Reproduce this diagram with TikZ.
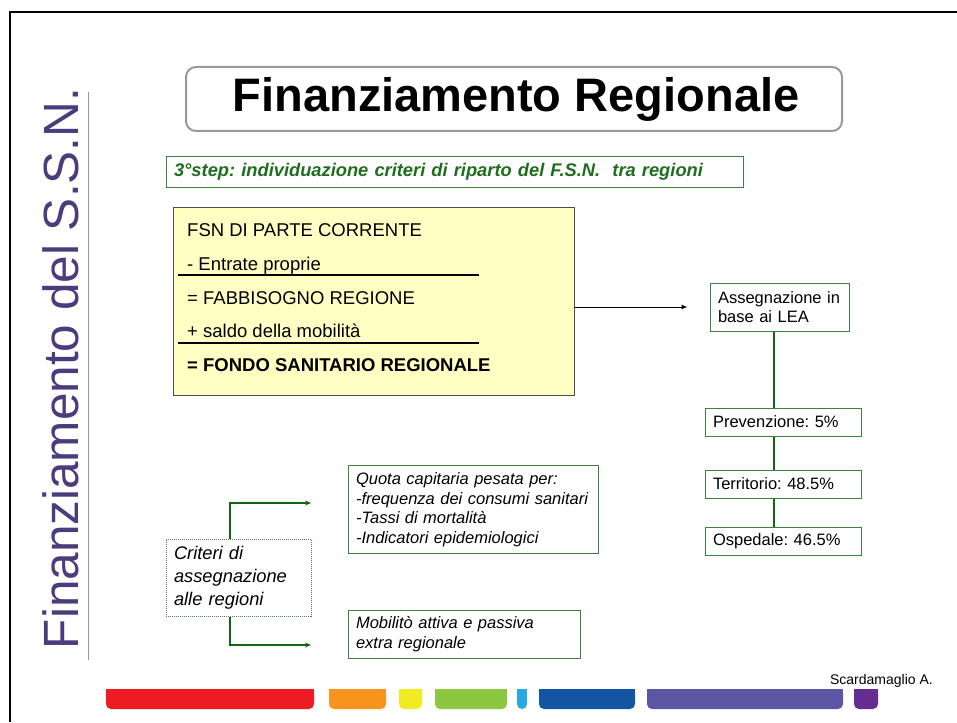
\documentclass[tikz,border=0pt]{standalone}
\usepackage{fontspec}
\setmainfont{Liberation Sans}
\usetikzlibrary{arrows.meta}
\frenchspacing
\definecolor{gbord}{HTML}{3F7F3F}
\definecolor{gtext}{HTML}{1E6E1E}
\definecolor{gline}{HTML}{126312}
\definecolor{yfill}{HTML}{FFFFC4}
\definecolor{purp}{HTML}{4B3C7E}
\definecolor{cRed}{HTML}{ED1C24}
\definecolor{cOra}{HTML}{F7941D}
\definecolor{cYel}{HTML}{F2EB24}
\definecolor{cGre}{HTML}{8DC63F}
\definecolor{cCya}{HTML}{27AAE1}
\definecolor{cBlu}{HTML}{1155A3}
\definecolor{cPbl}{HTML}{5B57A5}
\definecolor{cPur}{HTML}{662D91}
\tikzset{
  gbox/.style={draw=gbord, line width=1pt, inner xsep=8pt, inner ysep=0pt, align=left, font=\fontsize{16.5}{19.5}\selectfont},
  itbox/.style={gbox, font=\fontsize{16.5}{19.5}\selectfont\itshape},
  yline/.style={line width=2pt, black},
  gconn/.style={draw=gline, line width=2pt},
  garrow/.style={gconn, -{Stealth[length=6pt,width=5pt]}},
  ytext/.style={anchor=base west, inner sep=0pt, font=\fontsize{18.5}{20}\selectfont},
}
\begin{document}
\begin{tikzpicture}[x=1pt,y=-1pt]
\useasboundingbox (0,0) rectangle (957,722);
\fill[white] (0,0) rectangle (957,722);
% frame
\draw[line width=2pt] (10,722) -- (10,12) -- (957,12);
% vertical title
\node[rotate=90, text=purp, font=\fontsize{49.5}{52}\selectfont, inner sep=0pt] (vt) at (61,368.5) {Finanziamento del S.S.N.};
\draw[gray!80, line width=1pt] (88,92) -- (88,660);
% title
\node[draw=black!40, line width=2pt, rounded corners=10pt, minimum width=656pt, minimum height=64pt, font=\fontsize{47}{49}\selectfont\bfseries] (title) at (514,99) {\hspace*{4pt}Finanziamento Regionale};
% step
\node[gbox, minimum width=577pt, minimum height=30pt, text width=561pt, text=gtext, font=\fontsize{18.3}{20}\selectfont\bfseries\itshape] (step) at (454.5,172) {3°step: individuazione criteri di riparto del F.S.N.\ \ tra regioni};
% yellow box
\node[draw=black!70, fill=yfill, line width=1pt, minimum width=401pt, minimum height=188pt] (fsn) at (373.5,301) {};
\node[ytext] (l1) at (187,236) {FSN DI PARTE CORRENTE};
\node[ytext] (l2) at (187,270) {- Entrate proprie};
\node[ytext] (l3) at (187,304) {= FABBISOGNO REGIONE};
\node[ytext] (l4) at (187,337) {+ saldo della mobilità};
\node[ytext, font=\fontsize{18.5}{20}\selectfont\bfseries] (l5) at (187,371) {= FONDO SANITARIO REGIONALE};
\draw[yline] (178,275) -- (479,275);
\draw[yline] (178,343) -- (479,343);
% LEA
\node[gbox, minimum width=139pt, minimum height=48pt, text width=123pt] (lea) at (779.5,307) {Assegnazione in\\base ai LEA};
\draw[black, line width=1pt, -{Latex[length=6pt,width=5pt]}, shorten >=22pt] (fsn.east |- lea.west) -- (lea.west);
\node[gbox, minimum width=156pt, minimum height=28pt, text width=140pt] (prev) at (783,422) {Prevenzione: 5\%};
\node[gbox, minimum width=156pt, minimum height=28pt, text width=140pt] (terr) at (783,484) {Territorio: 48.5\%};
\node[gbox, minimum width=156pt, minimum height=28pt, text width=140pt] (osp) at (783,541) {Ospedale: 46.5\%};
\coordinate (vx) at (774,0);
\draw[gconn] (lea.south -| vx) -- (prev.north -| vx);
\draw[gconn] (prev.south -| vx) -- (terr.north -| vx);
\draw[gconn] (terr.south -| vx) -- (osp.north -| vx);
% criteri
\node[draw=gbord!70!gray, densely dotted, line width=1pt, inner xsep=8pt, align=left, minimum width=145pt, minimum height=77pt, text width=129pt, font=\fontsize{18.3}{23}\selectfont\itshape] (crit) at (238.5,577.5) {Criteri di\\assegnazione\\alle regioni};
\node[itbox, minimum width=250pt, minimum height=88pt, text width=234pt] (quota) at (473,509.5) {Quota capitaria pesata per:\\-frequenza dei consumi sanitari\\-Tassi di mortalità\\-Indicatori epidemiologici};
\node[itbox, minimum width=232pt, minimum height=48pt, text width=216pt] (mob) at (464,634) {Mobilitò attiva e passiva\\extra regionale};
\coordinate (cx) at (230,0);
\coordinate (qa) at (311,503);
\coordinate (ma) at (311,645);
\draw[garrow] (crit.north -| cx) |- (qa);
\draw[garrow] (crit.south -| cx) |- (ma);
% author
\node[anchor=base east, inner sep=0pt, font=\fontsize{14}{16}\selectfont] (auth) at (933,684) {Scardamaglio A.};
% colour bars
\foreach \a/\b/\c in {106/314/cRed, 329/386/cOra, 399/422/cYel, 435/507/cGre, 517/527/cCya, 539/635/cBlu, 647/843/cPbl, 854/878/cPur}{
  \fill[\c, rounded corners=5pt] (\a,689) rectangle (\b,709);
  \fill[\c] (\a,689) rectangle (\b,699);
}
\end{tikzpicture}
\end{document}
